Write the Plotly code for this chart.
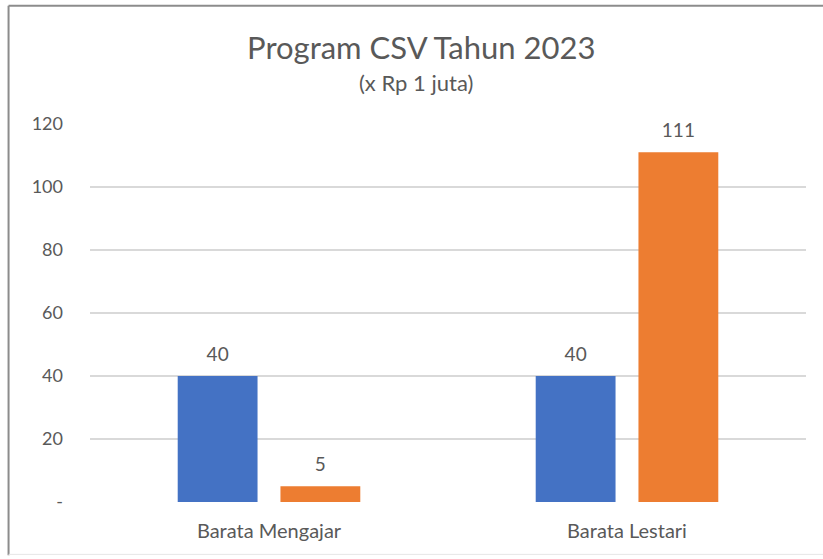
import plotly.graph_objects as go

categories = ["Barata Mengajar", "Barata Lestari"]
series_a = [40, 40]
series_b = [5, 111]
series_names = ["Seri 1", "Seri 2"]
tick_vals = [0, 20, 40, 60, 80, 100, 120]
tick_text = ["-", "20", "40", "60", "80", "100", "120"]

FONT = "Lato, 'Noto Sans', sans-serif"
TXT = "#595959"
LABEL_TEMPLATE = "<span style='font-size:19px'>%{y}</span><br> "

fig = go.Figure()
fig.add_trace(go.Bar(
    x=categories, y=series_a, name=series_names[0],
    marker=dict(color="#4472C4", line=dict(width=0)),
    texttemplate=LABEL_TEMPLATE, textposition="outside",
    textfont=dict(family=FONT, size=8, color=TXT), cliponaxis=False,
))
fig.add_trace(go.Bar(
    x=categories, y=series_b, name=series_names[1],
    marker=dict(color="#ED7D31", line=dict(width=0)),
    texttemplate=LABEL_TEMPLATE, textposition="outside",
    textfont=dict(family=FONT, size=8, color=TXT), cliponaxis=False,
))

W, H = 823, 559
L, R, T, B = 89.5, 17, 123.5, 56.5
pw, ph = W - L - R, H - T - B

def px_x(p):
    return (p - L) / pw

def px_y(p):
    return (H - B - p) / ph

fig.update_layout(
    width=W, height=H,
    margin=dict(l=L, r=R, t=T, b=B, autoexpand=False),
    paper_bgcolor="white", plot_bgcolor="white",
    showlegend=False,
    barmode="group", bargap=0.426, bargroupgap=0.223,
    uniformtext=dict(mode=False),
    font=dict(family=FONT, color=TXT),
    title=dict(text="Program CSV Tahun 2023", x=px_x(421), xanchor="center",
               xref="paper",
               yref="container", y=1 - 48 / H, yanchor="middle",
               font=dict(family=FONT, size=31, color=TXT)),
    annotations=[dict(text="(x Rp 1 juta)", xref="paper", yref="paper",
                      x=px_x(416), y=px_y(82), xanchor="center", yanchor="middle",
                      showarrow=False, font=dict(family=FONT, size=22, color=TXT))],
    xaxis=dict(showline=False, ticks="", showgrid=False,
               tickfont=dict(family=FONT, size=20, color=TXT),
               ticklabelstandoff=15),
    yaxis=dict(range=[0, 120], tickvals=tick_vals, ticktext=tick_text,
               showgrid=True, gridcolor="#d9d9d9", gridwidth=1.5,
               zeroline=False, showline=False, ticks="",
               tickfont=dict(family=FONT, size=18, color=TXT),
               ticklabelstandoff=26),
    shapes=[
        dict(type="line", xref="paper", yref="paper", x0=px_x(8), x1=px_x(830),
             y0=px_y(5), y1=px_y(5), line=dict(color="#8c8c8c", width=2)),
        dict(type="line", xref="paper", yref="paper", x0=px_x(8), x1=px_x(8),
             y0=px_y(5), y1=px_y(556), line=dict(color="#8c8c8c", width=2)),
        dict(type="line", xref="paper", yref="paper", x0=px_x(8), x1=px_x(830),
             y0=px_y(555), y1=px_y(555), line=dict(color="#e6e6e6", width=1)),
    ],
)

fig.write_html("out.html", config={"displayModeBar": False},
               post_script="document.body.style.margin='0';document.body.style.padding='0';")
